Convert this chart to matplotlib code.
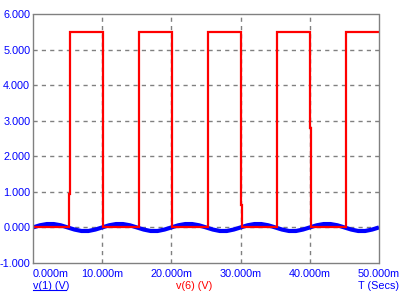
import matplotlib
matplotlib.use("Agg")
import matplotlib.pyplot as plt
from matplotlib.lines import Line2D

plt.rcParams['font.family'] = ['Liberation Sans', 'DejaVu Sans']

# v(1): small sine-like signal, read every 1 ms (0..50 ms)
v1_t_ms = list(range(0, 51))
v1_vals = [0.0, 0.06, 0.095, 0.095, 0.06, 0.0, -0.06, -0.1, -0.1, -0.06,
           0.0, 0.06, 0.095, 0.095, 0.06, 0.0, -0.06, -0.1, -0.1, -0.06,
           0.0, 0.06, 0.095, 0.095, 0.06, 0.0, -0.06, -0.1, -0.1, -0.06,
           0.0, 0.06, 0.095, 0.095, 0.06, 0.0, -0.06, -0.1, -0.1, -0.06,
           0.0, 0.06, 0.095, 0.095, 0.06, 0.0, -0.06, -0.1, -0.1, -0.06,
           0.0]

# v(6): square pulses (ms), with the intermediate level seen at each edge
pulse_on = [5.2, 15.25, 25.25, 35.2, 45.2]
pulse_off = [10.05, 20.05, 30.05, 40.05]
on_step = [0.93, 5.35, 5.45, 5.35, 3.2]
off_step = [5.27, 5.3, 0.63, 2.8]
v6_high = 5.5

x_ticks_ms = [0, 10, 20, 30, 40, 50]
x_tick_labels = ['0.000m', '10.000m', '20.000m', '30.000m', '40.000m', '50.000m']
y_ticks = [-1, 0, 1, 2, 3, 4, 5, 6]
y_tick_labels = ['-1.000', '0.000', '1.000', '2.000', '3.000', '4.000', '5.000', '6.000']

# build the red trace from the edge lists
dt = 0.1
red_t = [0.0]
red_v = [0.0]
for i, t_on in enumerate(pulse_on):
    red_t += [t_on, t_on, t_on + dt, t_on + dt]
    red_v += [0.0, on_step[i], on_step[i], v6_high]
    if i < len(pulse_off):
        t_off = pulse_off[i]
        red_t += [t_off, t_off, t_off + dt, t_off + dt]
        red_v += [v6_high, off_step[i], off_step[i], 0.0]
red_t.append(50.0)
red_v.append(v6_high)

blue = '#0000ff'
red = '#ff0000'
grey = '#808080'

fig = plt.figure(figsize=(4.04, 2.98), dpi=100)
ax = fig.add_axes([33 / 404, 35 / 298, 346 / 404, 249 / 298])

ax.plot(v1_t_ms, v1_vals, color=blue, lw=3.0, solid_capstyle='butt')
ax.plot(red_t, red_v, color=red, lw=1.6, solid_joinstyle='miter')

ax.set_xlim(0, 50)
ax.set_ylim(-1, 6)
ax.set_xticks(x_ticks_ms)
ax.set_xticklabels(x_tick_labels)
ax.set_yticks(y_ticks)
ax.set_yticklabels(y_tick_labels)
ax.tick_params(length=0, labelsize=7.8, labelcolor=blue)
ax.tick_params(axis='x', pad=4)
ax.tick_params(axis='y', pad=2)
ax.get_xticklabels()[0].set_horizontalalignment('left')

for v in x_ticks_ms[1:-1]:
    ax.axvline(v, color=grey, lw=1, ls=(0, (3, 3)), zorder=0)
for v in y_ticks[1:-1]:
    ax.axhline(v, color=grey, lw=1, ls=(0, (3, 3)), zorder=0)

for s in ax.spines.values():
    s.set_color(grey)
    s.set_linestyle((0, (1, 1)))
    s.set_linewidth(1)

fig.text(33 / 404, 12 / 298, 'v(1) (V)', color=blue, fontsize=7.8, ha='left', va='center')
fig.add_artist(Line2D([33 / 404, 66 / 404], [8.5 / 298, 8.5 / 298], color=blue, lw=0.8))
fig.text(194 / 404, 12 / 298, 'v(6) (V)', color=red, fontsize=7.8, ha='center', va='center')
fig.text(399 / 404, 12 / 298, 'T (Secs)', color=blue, fontsize=7.8, ha='right', va='center')

fig.savefig('out.png', dpi=100)
